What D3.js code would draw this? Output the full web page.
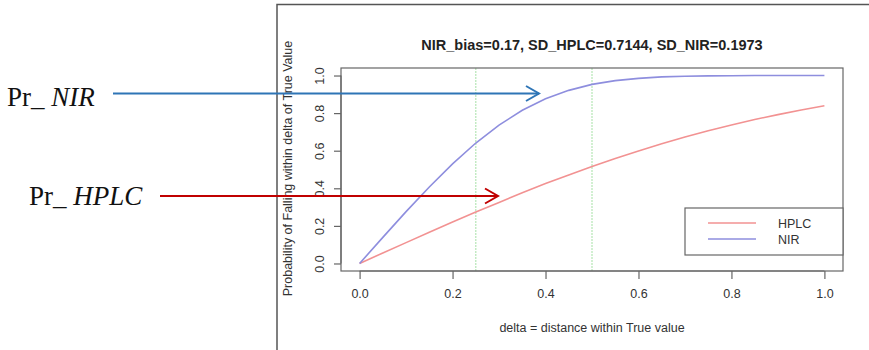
<!DOCTYPE html>
<html>
<head>
<meta charset="utf-8">
<script src="https://cdn.jsdelivr.net/npm/d3@7"></script>
<style>
  body { margin: 0; background: #fff; }
  svg { display: block; }
  .tick-label { font-family: "Liberation Sans", Arial, sans-serif; font-size: 12.5px; fill: #333; }
  .axis-title { font-family: "Liberation Sans", Arial, sans-serif; font-size: 12.5px; fill: #333; }
  .note { font-family: "Liberation Serif", "Times New Roman", serif; font-size: 27px; fill: #111; }
</style>
</head>
<body>
<div id="chart"></div>
<script>
// Data
const deltaValues = [0, 0.05, 0.1, 0.15, 0.2, 0.25, 0.3, 0.35, 0.4, 0.45, 0.5,
  0.55, 0.6, 0.65, 0.7, 0.75, 0.8, 0.85, 0.9, 0.95, 1.0];
const hplcValues = [0, 0.056, 0.111, 0.166, 0.221, 0.274, 0.325, 0.376, 0.425, 0.471, 0.516,
  0.559, 0.599, 0.637, 0.673, 0.706, 0.737, 0.766, 0.792, 0.817, 0.839];
const nirValues = [0, 0.139, 0.276, 0.407, 0.530, 0.641, 0.736, 0.815, 0.876, 0.921, 0.953,
  0.973, 0.985, 0.993, 0.996, 0.998, 0.999, 1.0, 1.0, 1.0, 1.0];
const xTicks = [0, 0.2, 0.4, 0.6, 0.8, 1.0];
const yTicks = [0, 0.2, 0.4, 0.6, 0.8, 1.0];
const guideLines = [0.25, 0.5];
const seriesNames = ["HPLC", "NIR"];
const seriesColors = ["#f29292", "#8e8ede"];

const width = 869;
const height = 350;
const box = { left: 341, right: 843, top: 68, bottom: 271 };

const svg = d3.select("#chart").append("svg")
  .attr("width", width)
  .attr("height", height);

svg.append("rect").attr("width", width).attr("height", height).attr("fill", "#fff");

// Frame around the embedded R image
svg.append("path")
  .attr("d", `M277,${height} V4.5 H${width}`)
  .attr("fill", "none")
  .attr("stroke", "#555")
  .attr("stroke-width", 1.5);

// Scales (R style: 4% padding)
const x = d3.scaleLinear().domain([-0.04, 1.04]).range([box.left, box.right]);
const y = d3.scaleLinear().domain([-0.04, 1.04]).range([box.bottom, box.top]);

// Guide lines
svg.selectAll("line.guide")
  .data(guideLines)
  .enter()
  .append("line")
  .attr("class", "guide")
  .attr("x1", (d) => x(d))
  .attr("x2", (d) => x(d))
  .attr("y1", box.top)
  .attr("y2", box.bottom)
  .attr("stroke", "#b5e6b5")
  .attr("stroke-width", 1.2)
  .attr("stroke-dasharray", "2,1");

// Curves
const line = d3.line()
  .x((d) => x(d[0]))
  .y((d) => y(d[1]));

[hplcValues, nirValues].forEach((vals, i) => {
  svg.append("path")
    .datum(deltaValues.map((d, j) => [d, vals[j]]))
    .attr("fill", "none")
    .attr("stroke", seriesColors[i])
    .attr("stroke-width", 1.6)
    .attr("d", line);
});

// Box
svg.append("rect")
  .attr("x", box.left)
  .attr("y", box.top)
  .attr("width", box.right - box.left)
  .attr("height", box.bottom - box.top)
  .attr("fill", "none")
  .attr("stroke", "#666")
  .attr("stroke-width", 1.2);

// Axes
const xAxis = svg.append("g")
  .attr("transform", `translate(0, ${box.bottom})`)
  .call(d3.axisBottom(x).tickValues(xTicks).tickSize(8).tickPadding(10).tickFormat(d3.format(".1f")));
xAxis.select(".domain").attr("d", `M${x(0)},0H${x(1)}`).attr("stroke", "#666").attr("stroke-width", 1.2);
xAxis.selectAll(".tick line").attr("stroke", "#666").attr("stroke-width", 1.2);
xAxis.selectAll(".tick text").attr("class", "tick-label").attr("fill", null);
xAxis.attr("font-size", null).attr("font-family", null);

const yAxis = svg.append("g")
  .attr("transform", `translate(${box.left}, 0)`)
  .call(d3.axisLeft(y).tickValues(yTicks).tickSize(7).tickFormat(d3.format(".1f")));
yAxis.select(".domain").attr("d", `M0,${y(0)}V${y(1)}`).attr("stroke", "#666").attr("stroke-width", 1.2);
yAxis.selectAll(".tick line").attr("stroke", "#666").attr("stroke-width", 1.2);
yAxis.attr("font-size", null).attr("font-family", null);
yAxis.selectAll(".tick text")
  .attr("class", "tick-label")
  .attr("fill", null)
  .attr("x", null)
  .attr("dy", null)
  .attr("text-anchor", "middle")
  .attr("transform", "translate(-17, 0) rotate(-90)");

// Axis titles
svg.append("text")
  .attr("class", "axis-title")
  .attr("x", (box.left + box.right) / 2)
  .attr("y", 332)
  .attr("text-anchor", "middle")
  .text("delta = distance within True value");

svg.append("text")
  .attr("class", "axis-title")
  .attr("transform", `translate(292, ${(box.top + box.bottom) / 2 - 1}) rotate(-90)`)
  .attr("text-anchor", "middle")
  .text("Probability of Falling within delta of True Value");

// Title
svg.append("text")
  .attr("x", (box.left + box.right) / 2)
  .attr("y", 50)
  .attr("text-anchor", "middle")
  .style("font-family", "'Liberation Sans', Arial, sans-serif")
  .style("font-size", "14.5px")
  .style("font-weight", "bold")
  .style("fill", "#222")
  .text("NIR_bias=0.17, SD_HPLC=0.7144, SD_NIR=0.1973");

// Legend
const legend = svg.append("g").attr("transform", "translate(685, 208)");
legend.append("rect")
  .attr("width", box.right - 685)
  .attr("height", 47)
  .attr("fill", "#fff")
  .attr("stroke", "#666")
  .attr("stroke-width", 1.2);

seriesNames.forEach((name, i) => {
  legend.append("line")
    .attr("x1", 23).attr("x2", 71)
    .attr("y1", 15 + i * 16).attr("y2", 15 + i * 16)
    .attr("stroke", seriesColors[i])
    .attr("stroke-width", 1.6);
  legend.append("text")
    .attr("class", "tick-label")
    .attr("x", 93)
    .attr("y", 19.5 + i * 16)
    .text(name);
});

// Annotations
const notes = [
  { label: "NIR", tx: 7, ty: 106, x1: 113, x2: 539, y: 93.5, color: "#2e75b6" },
  { label: "HPLC", tx: 29, ty: 205, x1: 160, x2: 498, y: 196, color: "#c00000" },
];

notes.forEach((n) => {
  const t = svg.append("text").attr("class", "note").attr("x", n.tx).attr("y", n.ty);
  t.append("tspan").text("Pr_ ");
  t.append("tspan").style("font-style", "italic").text(n.label);

  svg.append("line")
    .attr("x1", n.x1).attr("x2", n.x2)
    .attr("y1", n.y).attr("y2", n.y)
    .attr("stroke", n.color)
    .attr("stroke-width", 2);
  svg.append("path")
    .attr("d", `M${n.x2 - 13},${n.y - 7.5} L${n.x2},${n.y} L${n.x2 - 13},${n.y + 7.5}`)
    .attr("fill", "none")
    .attr("stroke", n.color)
    .attr("stroke-width", 2);
});
</script>
</body>
</html>
